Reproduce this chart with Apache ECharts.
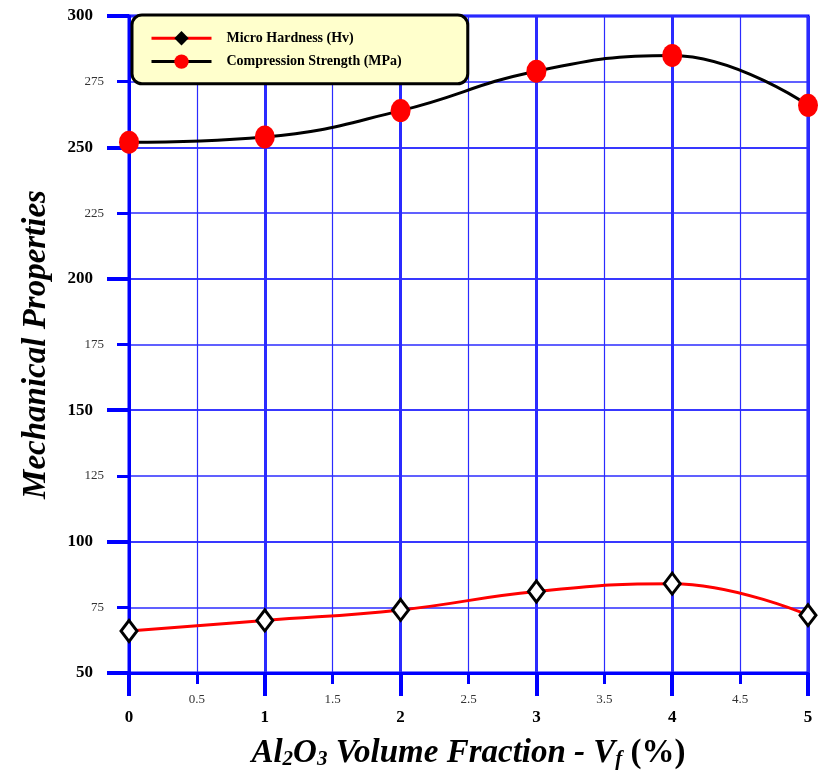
<!DOCTYPE html>
<html>
<head>
<meta charset="utf-8">
<script src="https://cdn.jsdelivr.net/npm/echarts@6/dist/echarts.min.js"></script>
<style>
html,body{margin:0;padding:0;background:#fff;}
#chart{width:818px;height:780px;}
</style>
</head>
<body>
<div id="chart"></div>
<script>
// volume fraction of Al2O3 (%)
var fractions = [0, 1, 2, 3, 4, 5];
var hardness = [66, 70, 74, 81, 84, 72];
var compression = [252, 254, 264, 279, 285, 266];
var xRange = [0, 5];
var yRange = [50, 300];

var serif = '"Liberation Serif", "DejaVu Serif", serif';
var blue = '#0000ff';
var gridBlue = '#2b2bff';

function pairs(ys) {
    return fractions.map(function (x, i) { return [x, ys[i]]; });
}

var chart = echarts.init(document.getElementById('chart'));
chart.setOption({
    animation: false,
    grid: {
        left: 129,
        right: 10,
        top: 16,
        bottom: 107,
        show: true,
        borderColor: blue,
        borderWidth: 3
    },
    legend: {
        orient: 'vertical',
        left: 132,
        top: 15,
        padding: [16, 66, 15, 18],
        itemGap: 9,
        itemWidth: 60,
        itemHeight: 18,
        backgroundColor: '#ffffcc',
        borderColor: '#000',
        borderWidth: 3,
        borderRadius: 10,
        lineStyle: {width: 3},
        textStyle: {fontFamily: serif, fontWeight: 'bold', fontSize: 14, color: '#000', padding: [0, 0, 0, 10]},
        data: [
            {name: 'Micro Hardness (Hv)', itemStyle: {color: '#000', borderWidth: 0}},
            {name: 'Compression Strength (MPa)'}
        ]
    },
    xAxis: [{
        type: 'value',
        min: xRange[0], max: xRange[1], interval: 1,
        name: '{a|Al}{s|2}{a|O}{s|3}{a| Volume Fraction - V}{s|f}{b| (%)}',
        nameLocation: 'middle',
        nameGap: 57,
        nameTextStyle: {
            rich: {
                a: {fontFamily: serif, fontStyle: 'italic', fontWeight: 'bold', fontSize: 33, color: '#000', verticalAlign: 'bottom', lineHeight: 40},
                b: {fontFamily: serif, fontWeight: 'bold', fontSize: 33, color: '#000', verticalAlign: 'bottom', lineHeight: 40},
                s: {fontFamily: serif, fontStyle: 'italic', fontWeight: 'bold', fontSize: 21, color: '#000', verticalAlign: 'bottom', lineHeight: 33}
            }
        },
        axisLine: {onZero: false, lineStyle: {color: blue, width: 3}},
        axisTick: {length: 23, lineStyle: {color: blue, width: 4}},
        axisLabel: {margin: 36, fontFamily: serif, fontWeight: 'bold', fontSize: 17, color: '#000'},
        splitLine: {lineStyle: {color: gridBlue, width: 3}}
    }, {
        type: 'value',
        position: 'bottom',
        min: xRange[0], max: xRange[1], interval: 0.5,
        axisLine: {show: false},
        axisTick: {length: 11, lineStyle: {color: blue, width: 3}},
        axisLabel: {
            margin: 20, fontFamily: serif, fontSize: 13, color: '#333',
            formatter: function (v) { return v % 1 === 0 ? '' : String(v); }
        },
        splitLine: {lineStyle: {color: gridBlue, width: 1.2}}
    }],
    yAxis: [{
        type: 'value',
        min: yRange[0], max: yRange[1], interval: 50,
        name: 'Mechanical Properties',
        nameLocation: 'middle',
        nameGap: 76,
        nameTextStyle: {fontFamily: serif, fontStyle: 'italic', fontWeight: 'bold', fontSize: 33, color: '#000'},
        axisLine: {lineStyle: {color: blue, width: 3}},
        axisTick: {length: 22, lineStyle: {color: blue, width: 4}},
        axisLabel: {margin: 36, fontFamily: serif, fontWeight: 'bold', fontSize: 17, color: '#000'},
        splitLine: {lineStyle: {color: gridBlue, width: 1.5}}
    }, {
        type: 'value',
        position: 'left',
        min: yRange[0], max: yRange[1], interval: 25,
        axisLine: {show: false},
        axisTick: {length: 12, lineStyle: {color: blue, width: 3}},
        axisLabel: {
            margin: 25, fontFamily: serif, fontSize: 13, color: '#333',
            formatter: function (v) { return v % 50 === 0 ? '' : String(v); }
        },
        splitLine: {lineStyle: {color: gridBlue, width: 1.5}}
    }],
    series: [{
        name: 'Micro Hardness (Hv)',
        type: 'line',
        smooth: 0.45,
        data: pairs(hardness),
        symbol: 'diamond',
        symbolSize: [16, 21],
        lineStyle: {color: '#ff0000', width: 3},
        itemStyle: {color: '#ffffff', borderColor: '#000', borderWidth: 3},
        z: 5
    }, {
        name: 'Compression Strength (MPa)',
        type: 'line',
        smooth: 0.45,
        data: pairs(compression),
        symbol: 'circle',
        symbolSize: [20, 23],
        lineStyle: {color: '#000', width: 3},
        itemStyle: {color: '#ff0000', borderWidth: 0},
        z: 5
    }]
});
</script>
</body>
</html>
